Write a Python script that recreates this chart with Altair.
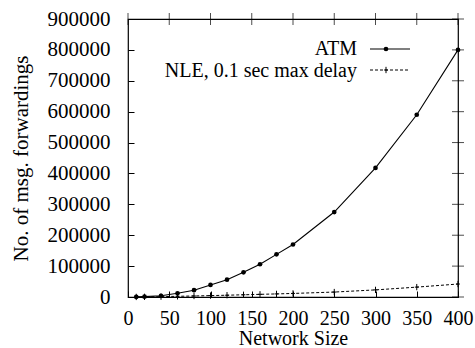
import altair as alt
import pandas as pd

sizes = [10, 20, 40, 60, 80, 100, 120, 140, 160, 180, 200, 250, 300, 350, 400]
atm = [300, 1200, 4000, 12000, 22000, 39000, 56000, 80000, 106000, 138000, 170000, 275000, 418000, 590000, 800000]
nle = [200, 500, 1200, 2200, 3300, 4500, 5800, 7200, 8600, 10000, 11500, 16000, 23000, 32000, 42000]
series_names = ["ATM", "NLE, 0.1 sec max delay"]
x_ticks = [0, 50, 100, 150, 200, 250, 300, 350, 400]
y_ticks = [0, 100000, 200000, 300000, 400000, 500000, 600000, 700000, 800000, 900000]

FONT = "Liberation Serif"
FS = 21

df_atm = pd.DataFrame({"size": sizes, "val": atm})
df_nle = pd.DataFrame({"size": sizes, "val": nle})
df_xt = pd.DataFrame({"size": x_ticks})
df_yt = pd.DataFrame({"val": y_ticks})

xscale = alt.Scale(domain=[0, 400], nice=False, zero=False)
yscale = alt.Scale(domain=[0, 900000], nice=False)

common = dict(labelFont=FONT, titleFont=FONT,
              labelColor="black", titleColor="black", tickColor="black", titleFontWeight="normal",
              labelOverlap=False, labelFlush=False, labelBound=False, grid=False,
              domain=False, offset=-6, tickSize=6, format="d")

X = alt.X("size:Q", scale=xscale, axis=alt.Axis(
    orient="bottom", values=x_ticks, labelFontSize=20, titleFontSize=20,
    labelPadding=11, title="Network Size", titlePadding=0, **common))
Y = alt.Y("val:Q", scale=yscale, axis=alt.Axis(
    orient="left", values=y_ticks, labelFontSize=FS, titleFontSize=FS,
    labelPadding=18, title="No. of msg. forwardings", titlePadding=16, **common))

plus = "M0,-1L0,1M-0.6,0L0.6,0"

atm_line = alt.Chart(df_atm).mark_line(color="black", strokeWidth=1.1).encode(x=X, y=Y)
atm_pts = alt.Chart(df_atm).mark_point(color="black", filled=True, size=22, opacity=1).encode(x=X, y=Y)
nle_line = alt.Chart(df_nle).mark_line(color="black", strokeWidth=1, strokeDash=[3, 2]).encode(x=X, y=Y)
nle_pts = alt.Chart(df_nle).mark_point(color="black", shape=plus, size=40, strokeWidth=1, opacity=1).encode(x=X, y=Y)

top_ticks = alt.Chart(df_xt).mark_tick(color="black", size=12, thickness=1, orient="vertical").encode(
    x=X, y=alt.value(0))
right_ticks = alt.Chart(df_yt).mark_tick(color="black", size=12, thickness=1, orient="horizontal").encode(
    y=Y, x=alt.value(330))

leg = pd.DataFrame({"name": series_names})
leg_atm_text = alt.Chart(leg.iloc[[0]]).mark_text(align="right", baseline="middle", font=FONT, fontSize=20, color="black").encode(
    text="name:N", x=alt.value(229), y=alt.value(30))
leg_nle_text = alt.Chart(leg.iloc[[1]]).mark_text(align="right", baseline="middle", font=FONT, fontSize=20, color="black").encode(
    text="name:N", x=alt.value(229), y=alt.value(52))
leg_atm_line = alt.Chart(leg.iloc[[0]]).mark_rule(color="black", strokeWidth=1.1).encode(
    x=alt.value(242), x2=alt.value(282), y=alt.value(30))
leg_atm_pt = alt.Chart(leg.iloc[[0]]).mark_point(color="black", filled=True, size=22, opacity=1).encode(
    x=alt.value(258), y=alt.value(30))
leg_nle_line = alt.Chart(leg.iloc[[1]]).mark_rule(color="black", strokeWidth=1, strokeDash=[3, 2]).encode(
    x=alt.value(242), x2=alt.value(282), y=alt.value(51))
leg_nle_pt = alt.Chart(leg.iloc[[1]]).mark_point(color="black", shape=plus, size=40, strokeWidth=1, opacity=1).encode(
    x=alt.value(258), y=alt.value(51))

chart = alt.layer(atm_line, atm_pts, nle_line, nle_pts, top_ticks, right_ticks,
                  leg_atm_text, leg_atm_line, leg_atm_pt,
                  leg_nle_text, leg_nle_line, leg_nle_pt).properties(
    width=330, height=278,
    padding={"left": 128, "top": 19, "right": 17, "bottom": 51},
    autosize=alt.AutoSizeParams(type="none"),
    background="white",
).configure_view(stroke="black", strokeWidth=1.2)

chart.save("out.html", embed_options={"renderer": "svg", "actions": False})
